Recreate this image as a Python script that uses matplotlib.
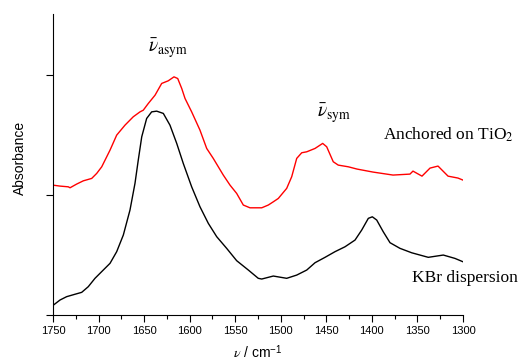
import numpy as np
import matplotlib
matplotlib.use("Agg")
import matplotlib.pyplot as plt
from matplotlib.ticker import MultipleLocator

plt.rcParams["font.family"] = ["Liberation Sans", "DejaVu Sans"]
plt.rcParams["mathtext.fontset"] = "stix"

# KBr dispersion (black)
kbr_wn = [1750, 1742.3, 1735.0, 1725.9, 1718.5, 1711.3, 1703.9, 1694.8, 1687.4,
          1680.1, 1672.8, 1665.5, 1660.0, 1656.4, 1652.6, 1647.2, 1641.7, 1636.2,
          1628.9, 1621.6, 1614.2, 1607.0, 1597.8, 1588.7, 1579.5, 1570.3, 1559.4,
          1548.4, 1535.6, 1524.7, 1520.9, 1508.2, 1493.5, 1482.5, 1471.5, 1462.4,
          1451.4, 1440.5, 1429.5, 1418.5, 1411.2, 1403.9, 1399.5, 1394.7, 1387.5,
          1380.1, 1369.2, 1356.3, 1338.1, 1321.6, 1308.8, 1300]
kbr_abs = [0.08, 0.125, 0.153, 0.173, 0.189, 0.236, 0.306, 0.375, 0.431,
           0.528, 0.667, 0.875, 1.098, 1.292, 1.486, 1.639, 1.694, 1.70,
           1.681, 1.583, 1.431, 1.264, 1.069, 0.903, 0.764, 0.653, 0.556,
           0.453, 0.375, 0.306, 0.30, 0.325, 0.306, 0.333, 0.375, 0.436,
           0.481, 0.528, 0.569, 0.625, 0.708, 0.806, 0.819, 0.792, 0.694,
           0.603, 0.556, 0.519, 0.481, 0.50, 0.472, 0.444]

# Anchored on TiO2 (red)
tio2_wn = [1750, 1742.3, 1733.2, 1731.3, 1724.0, 1716.7, 1707.5, 1702.0, 1696.5,
           1687.4, 1680.1, 1671.0, 1661.9, 1654.5, 1650.9, 1645.4, 1638.0, 1630.7,
           1623.5, 1617.2, 1613.1, 1608.7, 1605.1, 1597.8, 1588.7, 1581.3, 1574.1,
           1563.1, 1555.7, 1548.4, 1541.1, 1533.8, 1520.9, 1513.7, 1508.2, 1502.7,
           1493.5, 1488.0, 1482.5, 1477.0, 1471.5, 1462.4, 1454.0, 1449.6, 1442.4,
           1436.9, 1425.9, 1416.3, 1398.8, 1376.8, 1358.2, 1354.9, 1345.0, 1336.2,
           1327.4, 1316.4, 1305.5, 1300]
tio2_abs = [1.083, 1.075, 1.069, 1.061, 1.092, 1.119, 1.139, 1.181, 1.236,
            1.375, 1.50, 1.583, 1.653, 1.694, 1.708, 1.764, 1.833, 1.931,
            1.953, 1.986, 1.972, 1.889, 1.806, 1.694, 1.542, 1.389, 1.306,
            1.167, 1.083, 1.014, 0.917, 0.894, 0.894, 0.917, 0.944, 0.972,
            1.056, 1.153, 1.306, 1.353, 1.361, 1.389, 1.431, 1.403, 1.278,
            1.25, 1.236, 1.217, 1.192, 1.167, 1.175, 1.20, 1.158, 1.225,
            1.242, 1.158, 1.142, 1.125]

fig = plt.figure(figsize=(5.18, 3.62), dpi=100)
ax = fig.add_axes([0.1023, 0.1298, 0.7915, 0.8315])

ax.plot(kbr_wn, kbr_abs, color="black", linewidth=1.0)
ax.plot(tio2_wn, tio2_abs, color="#ff0000", linewidth=1.0)

ax.set_xlim(1750, 1300)
ax.set_ylim(0, 2.51)
ax.xaxis.set_major_locator(MultipleLocator(50))
ax.xaxis.set_minor_locator(MultipleLocator(25))
ax.set_yticks([0, 1, 2])
ax.set_yticklabels([])
ax.tick_params(axis="both", which="major", direction="out", length=5, width=0.8,
               labelsize=8, pad=3)
ax.tick_params(axis="x", which="minor", direction="out", length=3, width=0.8)
for s in ["top", "right"]:
    ax.spines[s].set_visible(False)

fig.text(20 / 518, 1 - 158 / 362, "Absorbance", fontsize=10, rotation=90,
         ha="center", va="center")
ax.set_xlabel(r"$\nu$ / cm$^{\mathregular{-1}}$", fontsize=10, labelpad=5)

serif = ["Liberation Serif", "DejaVu Serif"]
ax.text(1645.7, 2.19, r"$\bar{\nu}_{\mathrm{asym}}$", fontsize=14, ha="left", va="baseline")
ax.text(1460.2, 1.65, r"$\bar{\nu}_{\mathrm{sym}}$", fontsize=14, ha="left", va="baseline")
ax.text(1388, 1.46, r"Anchored on TiO$_\mathrm{2}$", fontsize=12.5, family=serif,
        ha="left", va="baseline", clip_on=False)
ax.text(1356, 0.275, "KBr dispersion", fontsize=12.5, family=serif,
        ha="left", va="baseline", clip_on=False)

fig.savefig("out.png", dpi=100)
